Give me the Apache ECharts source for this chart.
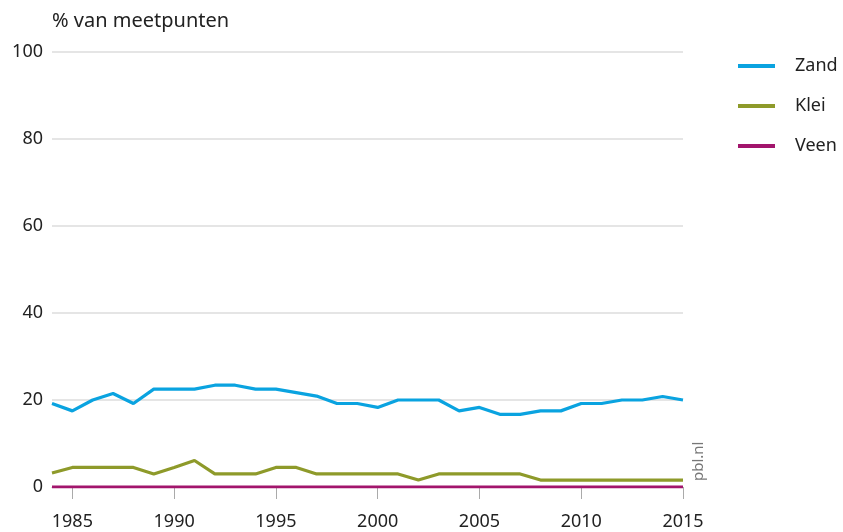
<!DOCTYPE html>
<html>
<head>
<meta charset="utf-8">
<script src="https://cdn.jsdelivr.net/npm/echarts@6/dist/echarts.min.js"></script>
<style>
  html, body { margin: 0; padding: 0; background: #fff; }
  #chart { width: 843px; height: 532px; }
</style>
</head>
<body>
<div id="chart"></div>
<script>
// jaren
const years = [];
for (let y = 1984; y <= 2015; y++) years.push(String(y));

// % van meetpunten per grondsoort
const zand = [19.2, 17.5, 20, 21.5, 19.2, 22.5, 22.5, 22.5, 23.4, 23.4, 22.5, 22.5, 21.7, 20.9, 19.2, 19.2,
              18.3, 20, 20, 20, 17.5, 18.3, 16.7, 16.7, 17.5, 17.5, 19.2, 19.2, 20, 20, 20.8, 20];
const klei = [3.2, 4.5, 4.5, 4.5, 4.5, 3.0, 4.5, 6.1, 3.0, 3.0, 3.0, 4.5, 4.5, 3.0, 3.0, 3.0,
              3.0, 3.0, 1.6, 3.0, 3.0, 3.0, 3.0, 3.0, 1.6, 1.6, 1.6, 1.6, 1.6, 1.6, 1.6, 1.6];
const veen = [0, 0, 0, 0, 0, 0, 0, 0, 0, 0, 0, 0, 0, 0, 0, 0,
              0, 0, 0, 0, 0, 0, 0, 0, 0, 0, 0, 0, 0, 0, 0, 0];

const yTicks = [0, 20, 40, 60, 80, 100];
const fontFam = '"Noto Sans", "Open Sans", sans-serif';

const chart = echarts.init(document.getElementById('chart'));

const mkLine = (name, data, color) => ({
    name: name,
    type: 'line',
    data: data,
    symbol: 'none',
    lineStyle: { color: color, width: 3.2 },
    itemStyle: { color: color },
    emphasis: { disabled: true }
});

chart.setOption({
    animation: false,
    textStyle: { fontFamily: fontFam },
    title: {
        text: '% van meetpunten',
        left: 52,
        top: 11,
        padding: 0,
        textStyle: { fontFamily: fontFam, fontSize: 20, fontWeight: 'normal', color: '#222' }
    },
    legend: {
        orient: 'vertical',
        left: 733,
        top: 50,
        icon: 'rect',
        itemWidth: 37,
        itemHeight: 4,
        itemGap: 18,
        textStyle: { fontFamily: fontFam, fontSize: 18, color: '#222', padding: [0, 0, 0, 15], lineHeight: 22 },
        data: ['Zand', 'Klei', 'Veen']
    },
    grid: { left: 52, right: 160, top: 52, bottom: 45 },
    xAxis: {
        type: 'category',
        data: years,
        boundaryGap: false,
        axisLine: { lineStyle: { color: '#bbb', width: 1 } },
        axisTick: {
            alignWithLabel: true,
            length: 12,
            interval: (i, v) => Number(v) % 5 === 0,
            lineStyle: { color: '#aaa' }
        },
        axisLabel: {
            interval: (i, v) => Number(v) % 5 === 0,
            margin: 26,
            fontSize: 18,
            color: '#222',
            fontFamily: fontFam
        },
        splitLine: { show: false }
    },
    yAxis: {
        type: 'value',
        min: yTicks[0],
        max: yTicks[yTicks.length - 1],
        interval: 20,
        axisLine: { show: false },
        axisTick: { show: false },
        axisLabel: { margin: 9, fontSize: 18, color: '#222', fontFamily: fontFam },
        splitLine: { lineStyle: { color: '#ddd', width: 1.5 } }
    },
    graphic: [{
        type: 'text',
        x: 691,
        y: 481,
        rotation: Math.PI / 2,
        style: { text: 'pbl.nl', fontSize: 15, fill: '#777', fontFamily: fontFam }
    }],
    series: [
        mkLine('Zand', zand, '#0aa3e0'),
        mkLine('Klei', klei, '#8e9a2a'),
        mkLine('Veen', veen, '#a2156c')
    ]
});
</script>
</body>
</html>
